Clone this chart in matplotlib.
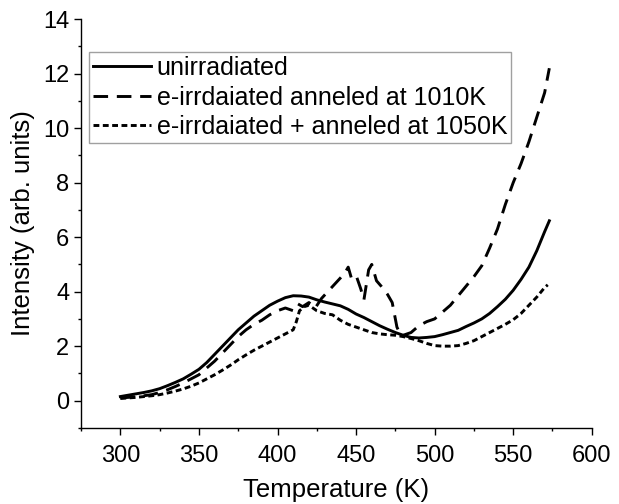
import matplotlib
matplotlib.use("Agg")
import matplotlib.pyplot as plt
from matplotlib.ticker import MultipleLocator

plt.rcParams['font.family'] = ['Liberation Sans', 'DejaVu Sans']

# unirradiated
T_un = [300, 305, 310, 315, 320, 325, 330, 335, 340, 345, 350, 355, 360, 365, 370, 375,
        380, 385, 390, 395, 400, 405, 410, 415, 420, 425, 430, 435, 440, 445, 450, 455,
        460, 465, 470, 475, 480, 485, 490, 495, 500, 505, 510, 515, 520, 525, 530, 535,
        540, 545, 550, 555, 560, 565, 570, 573]
I_un = [0.15, 0.2, 0.25, 0.3, 0.36, 0.44, 0.55, 0.67, 0.8, 0.97, 1.15, 1.4, 1.7, 2.0, 2.3, 2.6,
        2.85, 3.1, 3.3, 3.5, 3.65, 3.78, 3.85, 3.84, 3.8, 3.7, 3.62, 3.55, 3.48, 3.35, 3.18, 3.05,
        2.9, 2.75, 2.62, 2.5, 2.4, 2.32, 2.3, 2.32, 2.35, 2.42, 2.5, 2.58, 2.72, 2.85, 3.0, 3.2,
        3.45, 3.72, 4.05, 4.45, 4.9, 5.5, 6.2, 6.6]

# e-irradiated annealed at 1010K
T_1010 = [300, 305, 310, 315, 320, 325, 330, 335, 340, 345, 350, 355, 360, 365, 370, 375,
          380, 385, 390, 395, 400, 405, 410, 413, 416, 420, 424, 428, 432, 436, 440, 443,
          445, 447, 450, 453, 455, 458, 460, 463, 466, 470, 473, 476, 478, 480, 485, 490,
          495, 500, 505, 510, 515, 520, 525, 530, 535, 540, 545, 550, 555, 560, 565, 570, 573]
I_1010 = [0.1, 0.12, 0.15, 0.18, 0.22, 0.3, 0.4, 0.52, 0.65, 0.8, 0.95, 1.2, 1.45, 1.75, 2.05, 2.35,
          2.6, 2.8, 2.95, 3.15, 3.3, 3.4, 3.3, 3.55, 3.45, 3.6, 3.4, 3.75, 4.0, 4.25, 4.5, 4.7,
          4.9, 4.5, 4.6, 4.1, 3.7, 4.8, 5.0, 4.4, 4.2, 3.9, 3.6, 2.7, 2.45, 2.4, 2.5, 2.75,
          2.9, 3.0, 3.25, 3.5, 3.85, 4.2, 4.55, 4.95, 5.6, 6.3, 7.2, 8.0, 8.7, 9.5, 10.4, 11.3, 12.2]

# e-irradiated + annealed at 1050K
T_1050 = [300, 305, 310, 315, 320, 325, 330, 335, 340, 345, 350, 355, 360, 365, 370, 375,
          380, 385, 390, 395, 400, 405, 410, 412, 414, 417, 420, 425, 430, 435, 440, 445,
          450, 455, 460, 465, 470, 475, 480, 485, 490, 495, 500, 505, 510, 515, 520, 525,
          530, 535, 540, 545, 550, 555, 560, 565, 570, 572]
I_1050 = [0.08, 0.1, 0.12, 0.15, 0.18, 0.22, 0.28, 0.35, 0.43, 0.53, 0.65, 0.8, 0.95, 1.12, 1.3, 1.5,
          1.68, 1.85, 2.0, 2.15, 2.3, 2.45, 2.6, 2.9, 3.3, 3.45, 3.5, 3.3, 3.2, 3.15, 2.95, 2.8,
          2.7, 2.6, 2.5, 2.45, 2.42, 2.4, 2.35, 2.28, 2.2, 2.1, 2.02, 2.0, 2.0, 2.02, 2.1, 2.2,
          2.35, 2.5, 2.65, 2.8, 2.97, 3.2, 3.5, 3.8, 4.15, 4.25]

labels = ["unirradiated",
          "e-irrdaiated anneled at 1010K",
          "e-irrdaiated + anneled at 1050K"]

fig = plt.figure(figsize=(6.19, 5.04), dpi=100)
ax = fig.add_axes([0.131, 0.151, 0.825, 0.811])

lw = 2.1
ax.plot(T_un, I_un, color='black', lw=lw, label=labels[0])
ax.plot(T_1010, I_1010, color='black', lw=lw, dashes=(5, 3), label=labels[1])
ax.plot(T_1050, I_1050, color='black', lw=lw, dashes=(2, 1.2), label=labels[2])

ax.set_xlim(275, 600)
ax.set_ylim(-1, 14)
ax.xaxis.set_minor_locator(MultipleLocator(25))
ax.yaxis.set_minor_locator(MultipleLocator(1))
ax.set_xticks(range(300, 601, 50))
ax.set_yticks(range(0, 15, 2))

for s in ['top', 'right']:
    ax.spines[s].set_visible(False)
for s in ['left', 'bottom']:
    ax.spines[s].set_linewidth(1.0)

ax.tick_params(which='major', direction='out', length=5, width=1, labelsize=17)
ax.tick_params(axis='x', which='major', pad=7)
ax.tick_params(which='minor', direction='out', length=2.5, width=1)

ax.set_xlabel("Temperature (K)", fontsize=18.5, labelpad=8)
ax.set_ylabel("Intensity (arb. units)", fontsize=18.5, labelpad=6)

leg = ax.legend(loc='upper left', bbox_to_anchor=(0.016, 0.919), borderaxespad=0,
                fontsize=18, frameon=True, fancybox=False, edgecolor='#888888',
                handlelength=2.3, handletextpad=0.25, borderpad=0.15, labelspacing=0.22)
leg.get_frame().set_linewidth(1.0)

fig.savefig("out.png", dpi=100)
